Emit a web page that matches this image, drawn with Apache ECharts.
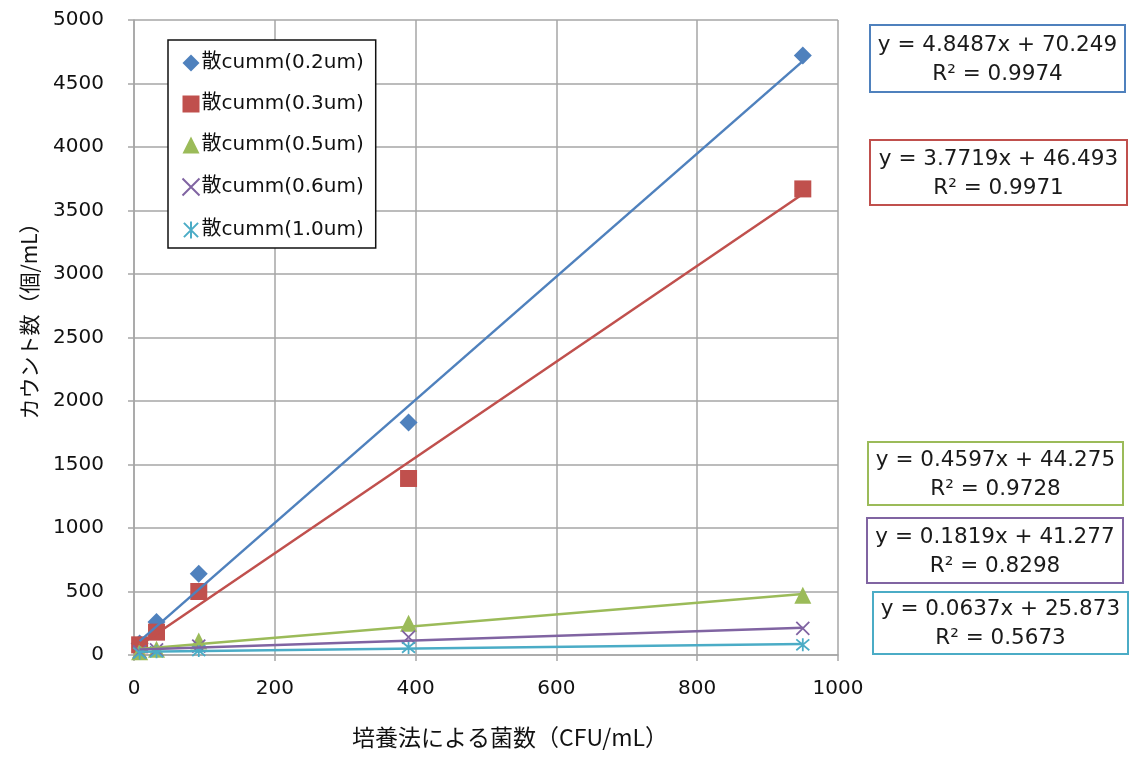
<!DOCTYPE html>
<html>
<head>
<meta charset="utf-8">
<script src="https://cdn.jsdelivr.net/npm/echarts@6/dist/echarts.min.js"></script>
<style>
  html, body { margin: 0; padding: 0; background: #fff; }
  #chart { width: 1130px; height: 758px; }
</style>
</head>
<body>
<div id="chart"></div>
<script>
// Particle counter readings vs. culture-method bacterial counts
const seriesNames = ['散cumm(0.2um)', '散cumm(0.3um)', '散cumm(0.5um)', '散cumm(0.6um)', '散cumm(1.0um)'];
const cfuValues = [8, 32, 92, 390, 950];
const count02 = [90, 260, 640, 1830, 4720];
const count03 = [80, 180, 500, 1390, 3670];
const count05 = [25, 45, 110, 250, 470];
const count06 = [25, 40, 70, 140, 210];
const count10 = [15, 25, 35, 60, 80];

// Linear trendline fits (slope, intercept, R²)
const slopes = [4.8487, 3.7719, 0.4597, 0.1819, 0.0637];
const intercepts = [70.249, 46.493, 44.275, 41.277, 25.873];
const rSquared = ['0.9974', '0.9971', '0.9728', '0.8298', '0.5673'];
const slopeText = ['4.8487', '3.7719', '0.4597', '0.1819', '0.0637'];
const interceptText = ['70.249', '46.493', '44.275', '41.277', '25.873'];

const xAxisTitle = '培養法による菌数（CFU/mL）';
const yAxisTitle = 'カウント数（個/mL）';

const colors = ['#4F81BD', '#C0504D', '#9BBB59', '#8064A2', '#4BACC6'];
const symbols = [
  'diamond',
  'rect',
  'triangle',
  'path://M0,0L20,20M20,0L0,20',
  'path://M0,0L20,20M20,0L0,20M10,-2L10,22'
];
const symbolSizes = [18, 17, 17, 13, 13];
const strokeSymbol = [false, false, false, true, true];
const countSeries = [count02, count03, count05, count06, count10];

const numFont = '"DejaVu Sans", "Noto Sans CJK JP", sans-serif';
const jpFont = '"Noto Sans CJK JP", "DejaVu Sans", sans-serif';

const scatterSeries = countSeries.map((vals, i) => ({
  name: seriesNames[i],
  type: 'scatter',
  symbol: symbols[i],
  symbolSize: symbolSizes[i],
  itemStyle: strokeSymbol[i]
    ? { color: 'none', borderColor: colors[i], borderWidth: 1.8, opacity: 1 }
    : { color: colors[i], opacity: 1 },
  data: cfuValues.map((x, j) => [x, vals[j]]),
  z: 3
}));

const xMin = Math.min(...cfuValues);
const xMax = Math.max(...cfuValues);
const trendSeries = slopes.map((a, i) => ({
  name: seriesNames[i] + ' trend',
  type: 'line',
  symbol: 'none',
  silent: true,
  lineStyle: { color: colors[i], width: 2.5 },
  data: [[xMin, a * xMin + intercepts[i]], [xMax, a * xMax + intercepts[i]]],
  z: 4
}));

// Equation boxes at the right of the plot
const boxes = [
  { x: 870, y: 25, w: 255, h: 67 },
  { x: 870, y: 140, w: 257, h: 65 },
  { x: 868, y: 442, w: 255, h: 63 },
  { x: 867, y: 518, w: 256, h: 65 },
  { x: 873, y: 592, w: 255, h: 62 }
];
const boxGraphics = boxes.map((b, i) => ({
  type: 'group',
  children: [
    {
      type: 'rect',
      shape: { x: b.x, y: b.y, width: b.w, height: b.h },
      style: { fill: '#fff', stroke: colors[i], lineWidth: 2 }
    },
    {
      type: 'text',
      x: b.x + b.w / 2,
      y: b.y + b.h / 2 + 1,
      style: {
        text: 'y = ' + slopeText[i] + 'x + ' + interceptText[i] + '\nR² = ' + rSquared[i],
        font: '21.5px ' + numFont,
        fill: '#1a1a1a',
        align: 'center',
        verticalAlign: 'middle',
        lineHeight: 29
      }
    }
  ]
}));

const plainNumber = v => String(v);

const chart = echarts.init(document.getElementById('chart'));
chart.setOption({
  backgroundColor: '#fff',
  animation: false,
  grid: { left: 134, right: 292, top: 20, bottom: 103 },
  legend: {
    data: seriesNames,
    orient: 'vertical',
    left: 168,
    top: 40,
    padding: [13, 12, 7, 12],
    itemGap: 21,
    itemWidth: 17,
    itemHeight: 17,
    borderColor: '#111',
    borderWidth: 1.5,
    backgroundColor: '#fff',
    textStyle: { fontFamily: numFont, fontSize: 20, color: '#111', padding: [0, 0, 0, -3] }
  },
  xAxis: {
    type: 'value',
    min: 0,
    max: 1000,
    interval: 200,
    axisLine: { show: true, lineStyle: { color: '#a6a6a6', width: 1.5 } },
    axisTick: { show: true, inside: false, length: 6, lineStyle: { color: '#a6a6a6', width: 1.5 } },
    axisLabel: { margin: 24, fontFamily: numFont, fontSize: 20, color: '#111', formatter: plainNumber },
    splitLine: { show: true, lineStyle: { color: '#a6a6a6', width: 1.5 } }
  },
  yAxis: {
    type: 'value',
    min: 0,
    max: 5000,
    interval: 500,
    axisLine: { show: true, lineStyle: { color: '#a6a6a6', width: 1.5 } },
    axisTick: { show: true, inside: false, length: 6, lineStyle: { color: '#a6a6a6', width: 1.5 } },
    axisLabel: { margin: 30, fontFamily: numFont, fontSize: 20, color: '#111', formatter: plainNumber },
    splitLine: { show: true, lineStyle: { color: '#a6a6a6', width: 1.5 } }
  },
  graphic: [
    {
      type: 'text',
      x: 510,
      y: 737,
      style: {
        text: xAxisTitle,
        font: '23px ' + jpFont,
        fill: '#111',
        align: 'center',
        verticalAlign: 'middle'
      }
    },
    {
      type: 'text',
      x: 29,
      y: 316,
      rotation: Math.PI / 2,
      style: {
        text: yAxisTitle,
        font: '21px ' + jpFont,
        fill: '#111',
        align: 'center',
        verticalAlign: 'middle'
      }
    }
  ].concat(boxGraphics),
  series: scatterSeries.concat(trendSeries)
});
</script>
</body>
</html>
